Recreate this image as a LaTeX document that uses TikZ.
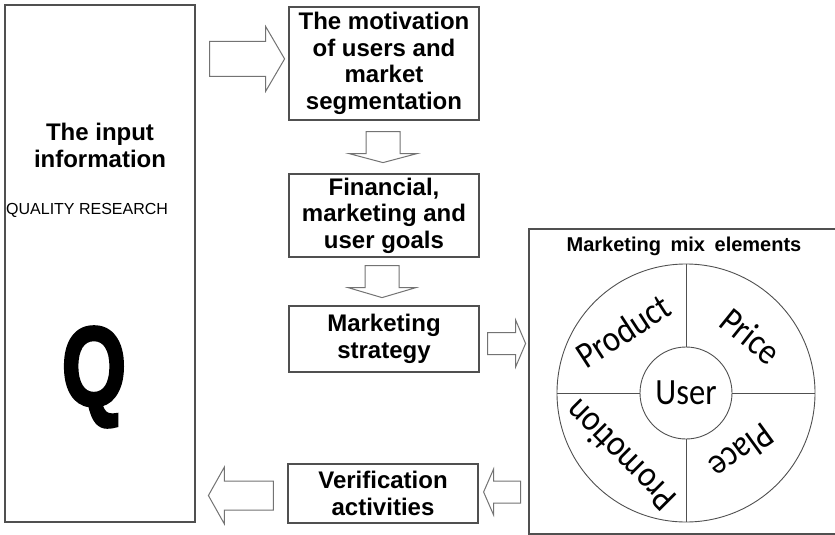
\documentclass[tikz,border=0pt]{standalone}
\usepackage{fontspec}
\setmainfont{Liberation Sans}
\newfontfamily\mixfont{Carlito}
\newfontfamily\heavyfont[FakeBold=3]{Liberation Sans Bold}
\usetikzlibrary{calc, positioning}
\definecolor{linegray}{RGB}{80,80,80}
\definecolor{arrowgray}{RGB}{115,115,115}

\tikzset{
  stepbox/.style={draw=linegray, line width=1.2pt, minimum width=190pt, inner sep=0pt, align=center, font=\fontsize{24}{26.5}\selectfont\bfseries},
  segline/.style={draw=linegray, line width=0.9pt},
  mixlabel/.style={font=\mixfont\fontsize{37}{37}\selectfont},
  pics/blockarrow/.style n args={4}{code={
    \draw[draw=arrowgray, line width=1pt, fill=white] (0,-#2) -- ({#1-#4},-#2) -- ({#1-#4},-#3) -- (#1,0) -- ({#1-#4},#3) -- ({#1-#4},#2) -- (0,#2) -- cycle;}}
}
\newcommand{\mixword}[1]{\scalebox{0.88}[1]{#1}}

\begin{document}
\begin{tikzpicture}[x=1pt, y=-1pt]
\useasboundingbox (0,0) rectangle (835,535);
% input column
\node[stepbox, minimum height=517pt] (info) at (100,263.5) {};
\node[font=\fontsize{24}{27}\selectfont\bfseries, align=center] (infotitle) at (100,145) {The input\\information};
\node[anchor=west, inner sep=0pt, font=\fontsize{16}{16}\selectfont] (quality) at (6,210) {QUALITY RESEARCH};
\node[inner sep=0pt, font=\heavyfont\fontsize{112}{112}\selectfont] (bigq) at (94,377) {\scalebox{0.74}[1]{Q}};
% steps
\node[stepbox, minimum height=113pt] (motiv) at (384,63.5) {The motivation\\of users and\\market\\segmentation};
\node[stepbox, minimum height=83pt] (goals) at (384,215.5) {Financial,\\marketing and\\user goals};
\node[stepbox, minimum height=66pt] (strat) at (384,339) {Marketing\\strategy};
\node[stepbox, minimum height=59pt] (verif) at (383,493.5) {Verification\\activities};
% marketing mix
\node[stepbox, minimum width=307pt, minimum height=305pt] (mix) at (682.5,381.5) {};
\node[font=\fontsize{20}{20}\selectfont\bfseries] (mixtitle) at (684,246) {Marketing\hspace{4pt} mix\hspace{4pt} elements};
\node[circle, segline, minimum size=258pt, inner sep=0pt] (wheel) at (686,393) {};
\node[circle, segline, minimum size=92pt, inner sep=0pt, mixlabel] (user) at (686,393) {\mixword{User}};
\draw[segline] (wheel.north) -- (user.north);
\draw[segline] (user.south) -- (wheel.south);
\draw[segline] (wheel.west) -- (user.west);
\draw[segline] (user.east) -- (wheel.east);
\node[mixlabel, rotate=33] (product) at (623,331) {\mixword{Product}};
\node[mixlabel, rotate=-39] (price) at (751,336) {\mixword{Price}};
\node[mixlabel, rotate=-144] (place) at (742,452) {\mixword{Place}};
\node[mixlabel, rotate=135] (promo) at (620,456) {\mixword{Promotion}};
% block arrows
\pic at ($(info.north east)+(14,54.5)$) {blockarrow={75}{17.5}{32.5}{19}};
\pic[rotate=-90] at ($(motiv.south)+(-1,11)$) {blockarrow={31}{17}{34}{9}};
\pic[rotate=-90] at ($(goals.south)+(-2,8)$) {blockarrow={32}{17}{34}{10}};
\pic at ($(strat.east)+(8,4.5)$) {blockarrow={38}{11}{23.5}{10}};
\pic[rotate=180] at ($(verif.east)+(42,-1.5)$) {blockarrow={37}{11}{23}{10}};
\pic[rotate=180] at ($(verif.west)+(-14,2)$) {blockarrow={65}{14.5}{28.5}{16}};
\end{tikzpicture}
\end{document}
